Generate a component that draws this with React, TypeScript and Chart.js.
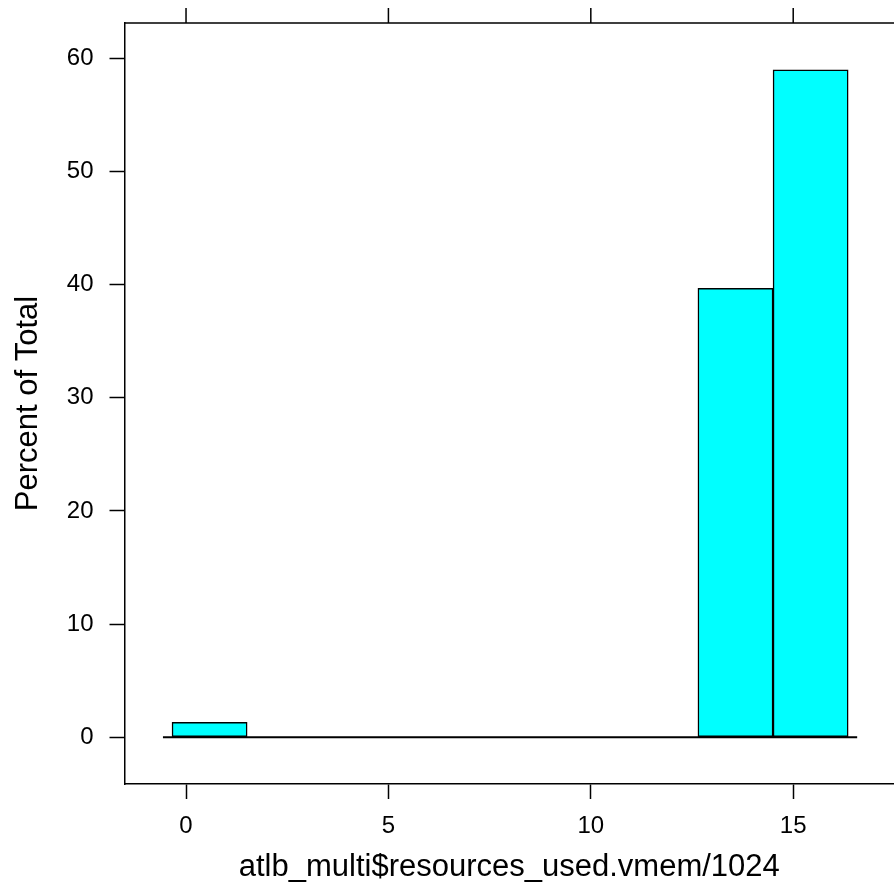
import React, { useEffect, useRef } from "react";
import { Chart, registerables } from "chart.js";

Chart.register(...registerables);

// Histogram bins (centers of equal-width bins) and percent of total
const binCenters = [0.582, 2.438, 4.294, 6.150, 8.006, 9.862, 11.718, 13.574, 15.430];
const percents = [1.32, 0, 0, 0, 0, 0, 0, 39.68, 58.98];
// zero reference line extent
const baselineX = [-0.57, 16.58];
const xTicks = [0, 5, 10, 15];
const yTicks = [0, 10, 20, 30, 40, 50, 60];
const xTitle = "atlb_multi$resources_used.vmem/1024";
const yTitle = "Percent of Total";

const FONT = "'Liberation Sans', Arial, Helvetica, sans-serif";

export default function App() {
  const ref = useRef<HTMLCanvasElement | null>(null);

  useEffect(() => {
    document.body.style.margin = "0";
    const canvas = ref.current;
    if (!canvas) return;

    const framePlugin = {
      id: "frame",
      afterDraw(chart: any) {
        const { ctx, chartArea } = chart;
        const xs = chart.scales.x;
        ctx.save();
        ctx.strokeStyle = "#000";
        ctx.lineWidth = 1.5;
        ctx.beginPath();
        ctx.moveTo(chartArea.left, chartArea.top);
        ctx.lineTo(chartArea.right + 2, chartArea.top);
        for (const t of xTicks) {
          const px = xs.getPixelForValue(t);
          ctx.moveTo(px, chartArea.top);
          ctx.lineTo(px, chartArea.top - 15);
        }
        ctx.stroke();
        ctx.restore();
      },
    };

    const chart = new Chart(canvas, {
      type: "bar",
      data: {
        datasets: [
          {
            type: "bar",
            data: binCenters.map((x, i) => ({ x, y: percents[i] })),
            backgroundColor: "#00FFFF",
            borderColor: "#000000",
            borderWidth: 1.5,
            borderSkipped: false,
            barPercentage: 1,
            categoryPercentage: 1,
            order: 2,
          } as any,
          {
            type: "line",
            data: baselineX.map((x) => ({ x, y: 0 })),
            borderColor: "#000000",
            borderWidth: 2,
            pointRadius: 0,
            fill: false,
            order: 1,
          } as any,
        ],
      },
      options: {
        responsive: false,
        animation: false,
        layout: { padding: { left: 0, top: 23, right: 0, bottom: 0 } },
        plugins: {
          legend: { display: false },
          tooltip: { enabled: false },
        },
        scales: {
          x: {
            type: "linear",
            position: "bottom",
            offset: false,
            min: -1.52,
            max: 17.49,
            afterBuildTicks: (s: any) => {
              s.ticks = xTicks.map((v) => ({ value: v }));
            },
            afterFit: (s: any) => {
              s.height = 106;
              s.paddingLeft = 0;
              s.paddingRight = 0;
            },
            grid: {
              offset: false,
              drawOnChartArea: false,
              drawTicks: true,
              tickLength: 15,
              tickColor: "#000",
              tickWidth: 1.5,
            },
            border: { display: true, color: "#000", width: 1.5 },
            ticks: {
              color: "#000",
              font: { family: FONT, size: 24 },
              padding: 13,
              maxRotation: 0,
              callback: (v: any) => String(v),
            },
            title: {
              display: true,
              text: xTitle,
              color: "#000",
              font: { family: FONT, size: 31 },
              padding: { top: 0, bottom: 4 },
            },
          },
          y: {
            type: "linear",
            min: -4.13,
            max: 63.13,
            afterBuildTicks: (s: any) => {
              s.ticks = yTicks.map((v) => ({ value: v }));
            },
            afterFit: (s: any) => {
              s.width = 124.5;
              s.paddingTop = 0;
              s.paddingBottom = 0;
            },
            grid: {
              drawOnChartArea: false,
              drawTicks: true,
              tickLength: 15,
              tickColor: "#000",
              tickWidth: 1.5,
            },
            border: { display: true, color: "#000", width: 1.5 },
            ticks: {
              color: "#000",
              font: { family: FONT, size: 24 },
              padding: 16,
              callback: (v: any) => String(v),
            },
            title: {
              display: true,
              text: yTitle,
              color: "#000",
              font: { family: FONT, size: 31 },
              padding: { top: 10, bottom: 0 },
            },
          },
        },
      },
      plugins: [framePlugin],
    });

    return () => chart.destroy();
  }, []);

  return (
    <div style={{ position: "absolute", left: 0, top: 0, width: 894, height: 890, background: "#fff" }}>
      <canvas ref={ref} width={894} height={890} style={{ display: "block", width: 894, height: 890 }} />
    </div>
  );
}
